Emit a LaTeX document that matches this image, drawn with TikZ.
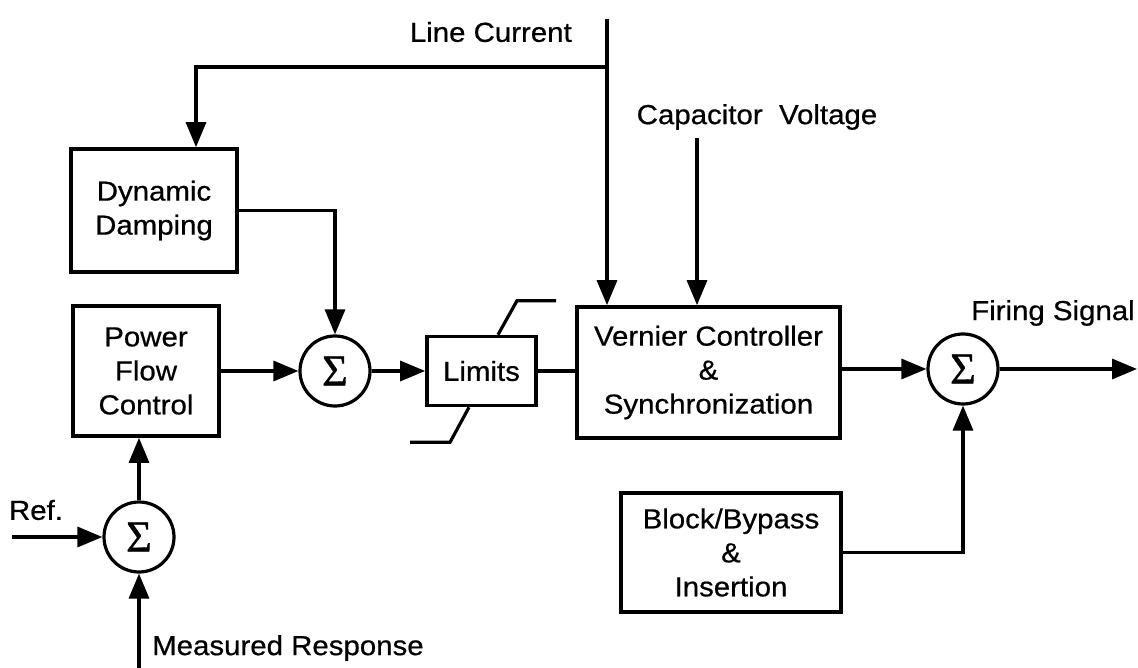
\documentclass[tikz,border=0pt]{standalone}
\usepackage{fontspec}
\setmainfont{Liberation Sans}[FakeStretch=1.07, FakeBold=0.6]
\newfontfamily\sigfont{Liberation Serif}[FakeBold=0.8]
\usetikzlibrary{arrows.meta}
\begin{document}
\begin{tikzpicture}[x=1pt,y=-1pt,
  txt/.style={font=\fontsize{27.5}{34}\selectfont, align=center, inner sep=0pt},
  blk/.style={draw, line width=3.6pt, txt, inner sep=0pt},
  sum/.style={circle, draw, line width=3.2pt, minimum size=70pt, inner sep=0pt,
              font=\sigfont\fontsize{44}{44}\selectfont},
  conn/.style={line width=3.2pt},
  arr/.style={conn, -{Triangle[length=25pt,width=20pt]}}]
\useasboundingbox (0,0) rectangle (1138,668);

% blocks
\node[blk, minimum width=166pt, minimum height=123pt] (dd) at (154,210.5) {Dynamic\\Damping};
\node[blk, minimum width=146pt, minimum height=130pt] (pfc) at (146,371) {Power\\Flow\\Control};
\node[blk, minimum width=109pt, minimum height=69pt] (lim) at (481.5,371) {Limits};
\node[blk, minimum width=263pt, minimum height=131pt] (vc) at (708.5,372.5) {Vernier Controller\\\&\\Synchronization};
\node[blk, minimum width=220pt, minimum height=119pt] (bb) at (731,552.5) {Block/Bypass\\\&\\Insertion};

% summing junctions
\node[sum] (s1) at (139,537) {Σ};
\node[sum] (s2) at (335,371) {Σ};
\node[sum] (s3) at (963,369) {Σ};

% labels
\node[txt, anchor=east] (lct) at (572,32) {Line Current};
\node[txt] (cvt) at (757,117) {Capacitor\hspace{0.3em} Voltage};
\node[txt] (fst) at (1053,313) {Firing Signal};
\node[txt] (reft) at (36,510) {Ref.};
\node[txt, anchor=west] (mrt) at (152,648) {Measured Response};

% free ends
\coordinate (lctop) at (607,19);
\coordinate (lcbr) at (607,67);
\coordinate (cv) at (697,138);
\coordinate (ref) at (12,537);
\coordinate (mr) at (139,668);
\coordinate (fs) at (1137,369);

% connectors
\draw[arr] (lctop) -- (lctop |- vc.north);
\draw[arr] (lcbr) -| ([xshift=42pt]dd.north);
\draw[arr] (cv) -- (cv |- vc.north);
\draw[arr] (dd.east) -| (s2.north);
\draw[arr] (s2.west -| pfc.east) -- (s2.west);
\draw[arr] (s2.east) -- (s2.east -| lim.west);
\draw[conn] (lim.east) -- (lim.east -| vc.west);
\draw[arr] (s3.west -| vc.east) -- (s3.west);
\draw[arr] (s3.east) -- (fs);
\draw[arr] (bb.east) -| (s3.south);
\draw[arr] (s1.north) -- (s1.north |- pfc.south);
\draw[arr] (ref) -- (s1.west);
\draw[arr] (mr) -- (s1.south);

% limiter characteristic
\draw[conn] ([xshift=16.5pt]lim.north) -- ++(19,-34) -- ++(39,0);
\draw[conn] ([xshift=-12.5pt]lim.south) -- ++(-19,35) -- ++(-40,0);
\end{tikzpicture}
\end{document}
